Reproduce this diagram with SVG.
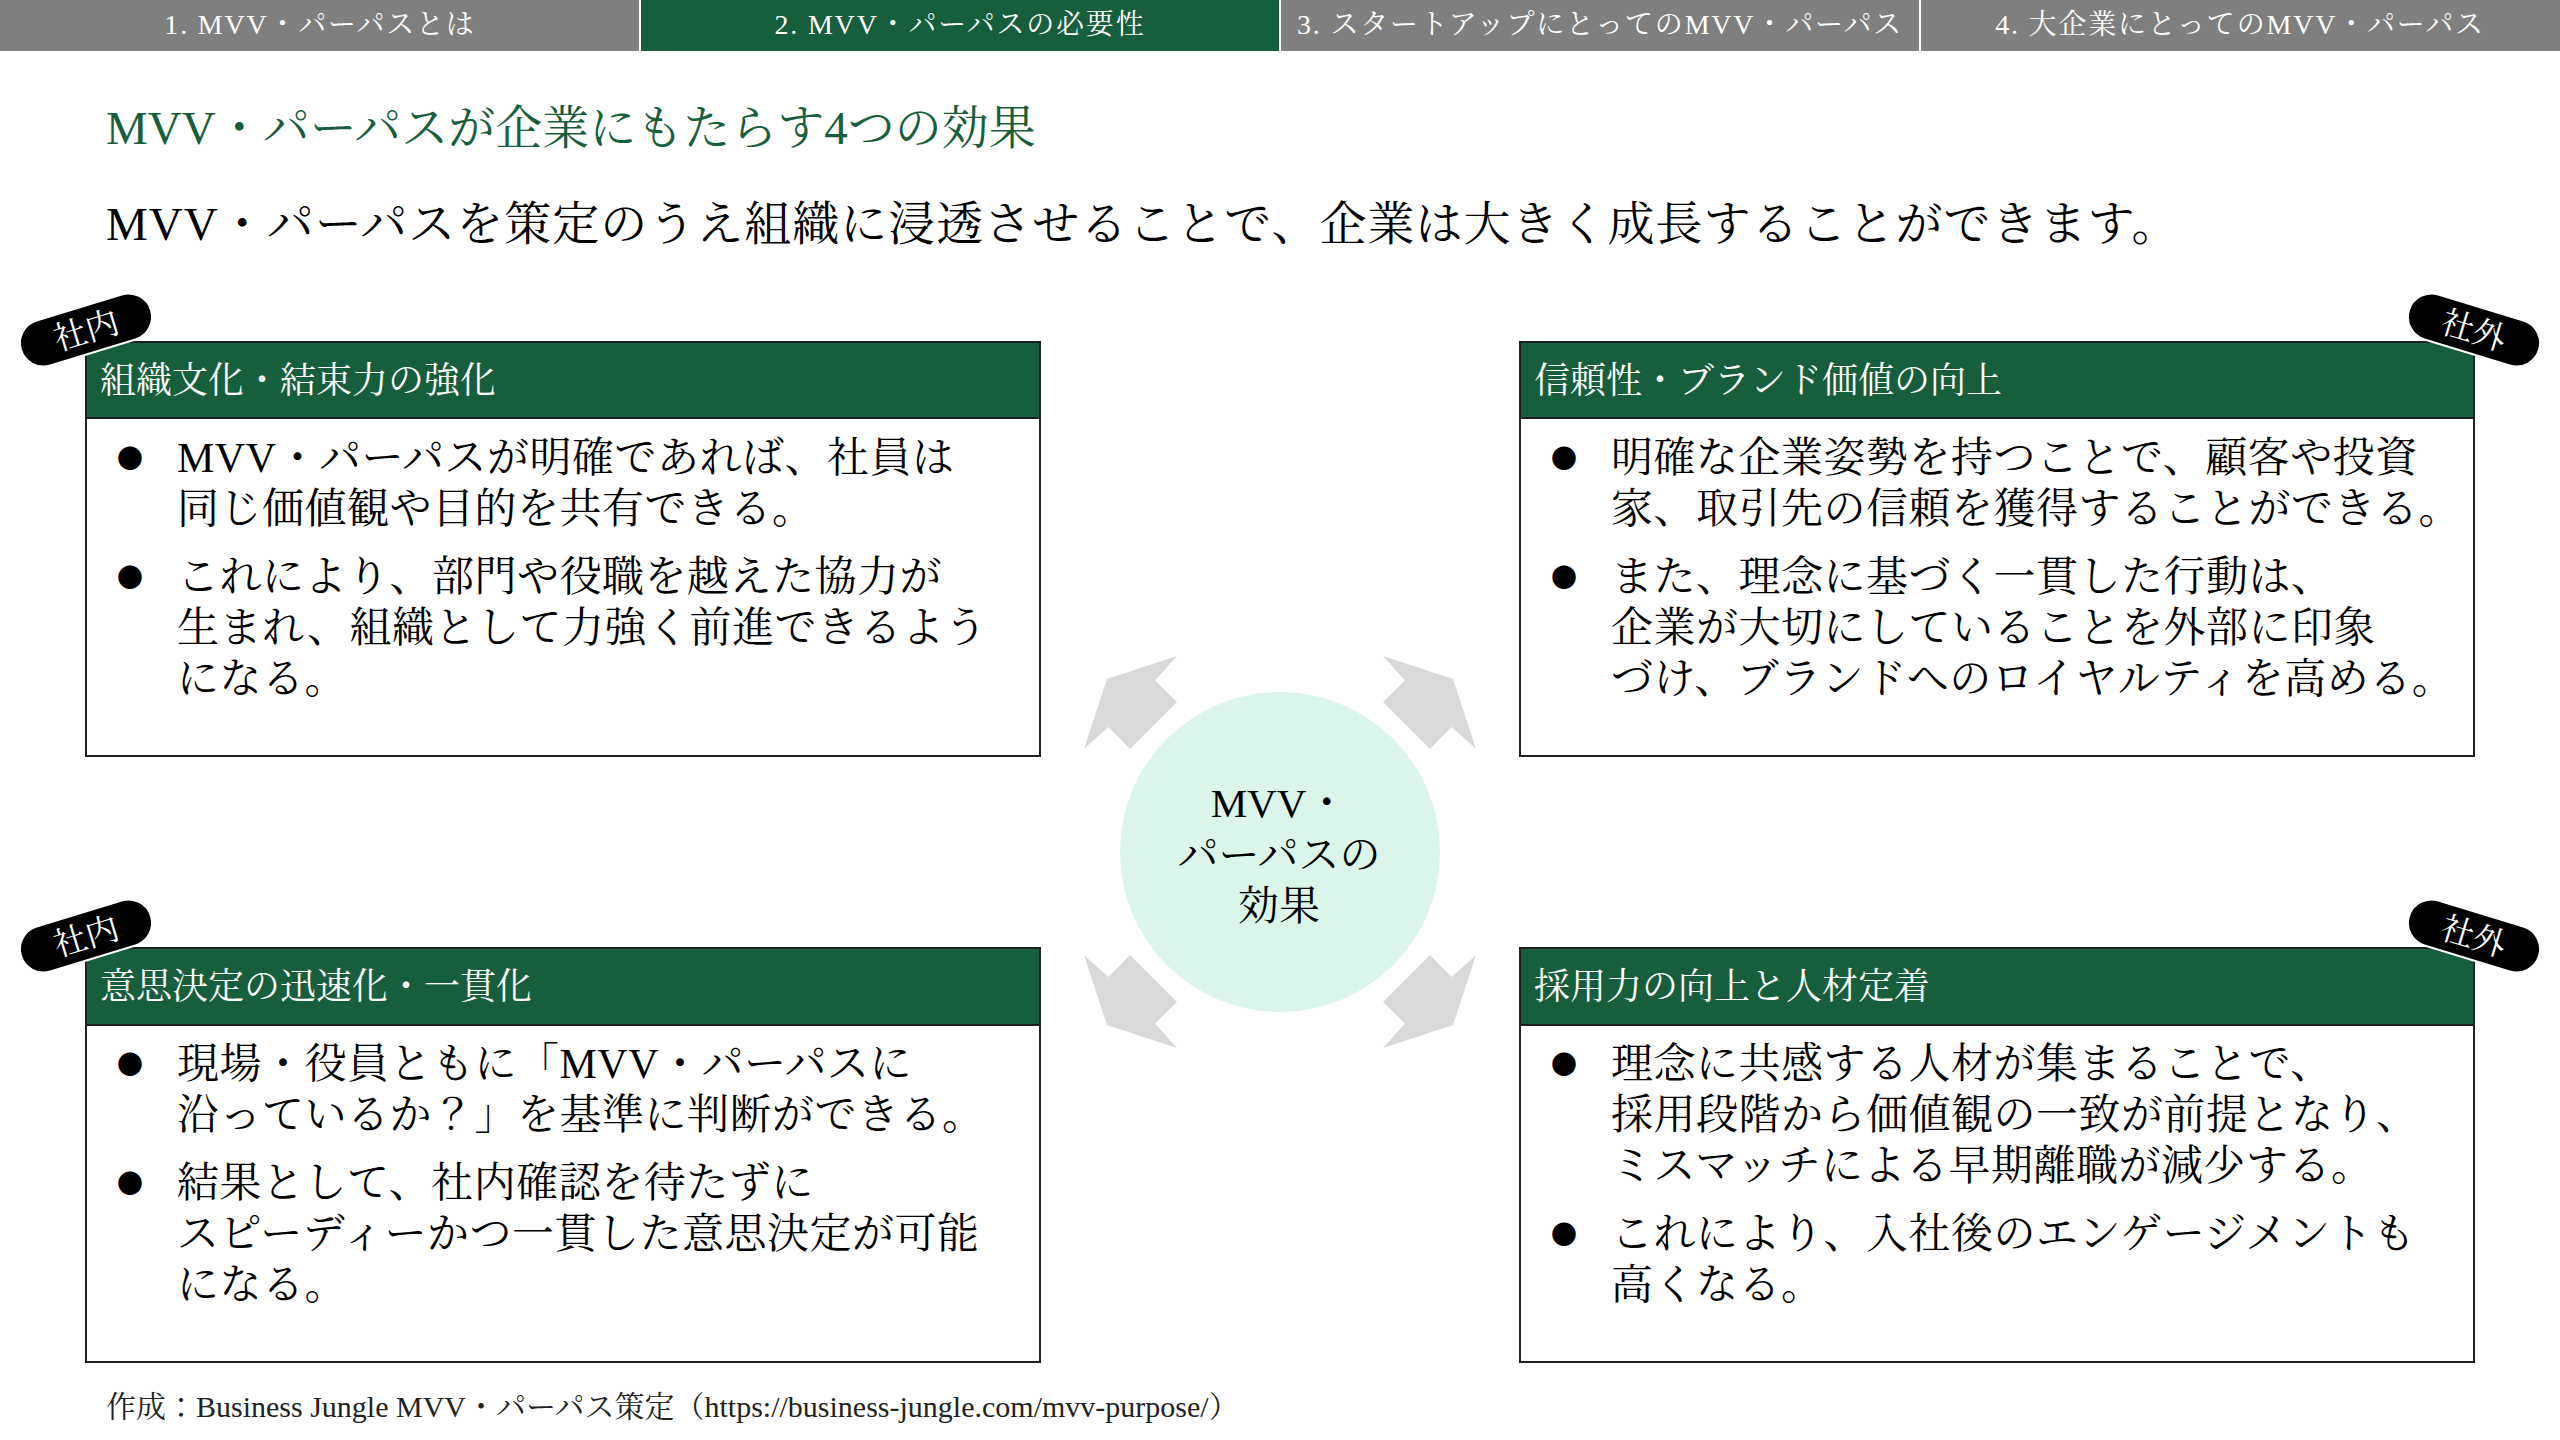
<svg xmlns="http://www.w3.org/2000/svg" width="2560" height="1440" viewBox="0 0 2560 1440">
<style>
  .jp { font-family: "Liberation Serif", "Noto Serif CJK JP", "Noto Sans CJK JP", serif; }
  .tab { fill: #7f7f7f; }
  .tabOn { fill: #175e3c; }
  .tabt { font-size: 28px; fill: #ffffff; text-anchor: middle; letter-spacing: 1.8px; }
  .title { font-size: 47px; fill: #175e3c; }
  .lead { font-size: 47px; fill: #000000; letter-spacing: 1px; }
  .box { fill: #ffffff; stroke: #1f1f1f; stroke-width: 2; }
  .hdr { fill: #175e3c; stroke: #1f1f1f; stroke-width: 2; }
  .hdrt { font-size: 36px; fill: #ffffff; }
  .body { font-size: 42px; fill: #000000; letter-spacing: 0.5px; }
  .bul { font-family: "Noto Sans CJK JP", sans-serif; font-size: 26px; fill: #000000; text-anchor: middle; }
  .pill { fill: #000000; stroke: #ffffff; stroke-width: 2; }
  .pillt { font-size: 33px; fill: #ffffff; text-anchor: middle; }
  .arrow { fill: #d9d9d9; }
  .center { fill: #dcf5ea; }
  .centert { font-size: 41px; fill: #000000; text-anchor: middle; }
  .foot { font-size: 30px; fill: #222222; }
</style>
<defs>
  <path id="arr" d="M -173,-173 L -103,-196 L -125,-171.5 L -103,-150 L -150,-103 L -171.5,-125 L -196,-103 Z"/>
  <rect id="pillshape" x="-68" y="-23.5" width="136" height="47" rx="23.5" ry="23.5"/>
</defs>
<rect x="0" y="0" width="2560" height="1440" fill="#ffffff"/>

<g id="tabs" class="jp">
  <rect class="tab" x="0" y="0" width="639" height="51"/>
  <rect class="tabOn" x="641" y="0" width="638" height="51"/>
  <rect class="tab" x="1281" y="0" width="638" height="51"/>
  <rect class="tab" x="1921" y="0" width="639" height="51"/>
  <text class="tabt" x="320" y="34">1. MVV・パーパスとは</text>
  <text class="tabt" x="960" y="34">2. MVV・パーパスの必要性</text>
  <text class="tabt" x="1600" y="34">3. スタートアップにとってのMVV・パーパス</text>
  <text class="tabt" x="2240" y="34">4. 大企業にとってのMVV・パーパス</text>
</g>

<g id="heading" class="jp">
  <text class="title" x="106" y="144">MVV・パーパスが企業にもたらす4つの効果</text>
  <text class="lead" x="106" y="240">MVV・パーパスを策定のうえ組織に浸透させることで、企業は大きく成長することができます。</text>
</g>

<g id="connectors">
  <use href="#arr" class="arrow" transform="translate(1280,852)"/>
  <use href="#arr" class="arrow" transform="translate(1280,852) scale(-1,1)"/>
  <use href="#arr" class="arrow" transform="translate(1280,852) scale(1,-1)"/>
  <use href="#arr" class="arrow" transform="translate(1280,852) scale(-1,-1)"/>
</g>

<g id="node-center" class="jp">
  <circle class="center" cx="1280" cy="852" r="160"/>
  <text class="centert" x="1279" y="817">MVV・</text>
  <text class="centert" x="1279" y="869">パーパスの</text>
  <text class="centert" x="1279" y="920">効果</text>
</g>

<g id="node-tl" class="jp">
  <rect class="box" x="86" y="342" width="954" height="414"/>
  <rect class="hdr" x="86" y="342" width="954" height="76"/>
  <text class="hdrt" x="100" y="393">組織文化・結束力の強化</text>
  <text class="bul" x="130" y="468">●</text>
  <text class="body"><tspan x="177" y="471.5">MVV・パーパスが明確であれば、社員は</tspan><tspan x="177" y="522.5">同じ価値観や目的を共有できる。</tspan></text>
  <text class="bul" x="130" y="587">●</text>
  <text class="body"><tspan x="177" y="590.5">これにより、部門や役職を越えた協力が</tspan><tspan x="177" y="641.5">生まれ、組織として力強く前進できるよう</tspan><tspan x="177" y="692.5">になる。</tspan></text>
  <use href="#pillshape" class="pill" transform="translate(86,330) rotate(-17)"/>
  <text class="pillt" transform="translate(86,330) rotate(-17)" x="0" y="12">社内</text>
</g>

<g id="node-tr" class="jp">
  <rect class="box" x="1520" y="342" width="954" height="414"/>
  <rect class="hdr" x="1520" y="342" width="954" height="76"/>
  <text class="hdrt" x="1534" y="393">信頼性・ブランド価値の向上</text>
  <text class="bul" x="1564" y="468">●</text>
  <text class="body"><tspan x="1611" y="471.5">明確な企業姿勢を持つことで、顧客や投資</tspan><tspan x="1611" y="522.5">家、取引先の信頼を獲得することができる。</tspan></text>
  <text class="bul" x="1564" y="587">●</text>
  <text class="body"><tspan x="1611" y="590.5">また、理念に基づく一貫した行動は、</tspan><tspan x="1611" y="641.5">企業が大切にしていることを外部に印象</tspan><tspan x="1611" y="692.5">づけ、ブランドへのロイヤルティを高める。</tspan></text>
  <use href="#pillshape" class="pill" transform="translate(2474,330) rotate(17)"/>
  <text class="pillt" transform="translate(2474,330) rotate(17)" x="0" y="12">社外</text>
</g>

<g id="node-bl" class="jp">
  <rect class="box" x="86" y="948" width="954" height="414"/>
  <rect class="hdr" x="86" y="948" width="954" height="77"/>
  <text class="hdrt" x="100" y="999">意思決定の迅速化・一貫化</text>
  <text class="bul" x="130" y="1074">●</text>
  <text class="body"><tspan x="177" y="1077.5">現場・役員ともに「MVV・パーパスに</tspan><tspan x="177" y="1128.5">沿っているか？」を基準に判断ができる。</tspan></text>
  <text class="bul" x="130" y="1193">●</text>
  <text class="body"><tspan x="177" y="1196.5">結果として、社内確認を待たずに</tspan><tspan x="177" y="1247.5">スピーディーかつ一貫した意思決定が可能</tspan><tspan x="177" y="1298.5">になる。</tspan></text>
  <use href="#pillshape" class="pill" transform="translate(86,936) rotate(-17)"/>
  <text class="pillt" transform="translate(86,936) rotate(-17)" x="0" y="12">社内</text>
</g>

<g id="node-br" class="jp">
  <rect class="box" x="1520" y="948" width="954" height="414"/>
  <rect class="hdr" x="1520" y="948" width="954" height="77"/>
  <text class="hdrt" x="1534" y="999">採用力の向上と人材定着</text>
  <text class="bul" x="1564" y="1074">●</text>
  <text class="body"><tspan x="1611" y="1077.5">理念に共感する人材が集まることで、</tspan><tspan x="1611" y="1128.5">採用段階から価値観の一致が前提となり、</tspan><tspan x="1611" y="1179.5">ミスマッチによる早期離職が減少する。</tspan></text>
  <text class="bul" x="1564" y="1244">●</text>
  <text class="body"><tspan x="1611" y="1247.5">これにより、入社後のエンゲージメントも</tspan><tspan x="1611" y="1298.5">高くなる。</tspan></text>
  <use href="#pillshape" class="pill" transform="translate(2474,936) rotate(17)"/>
  <text class="pillt" transform="translate(2474,936) rotate(17)" x="0" y="12">社外</text>
</g>

<g id="footer" class="jp">
  <text class="foot" x="106" y="1417">作成：Business Jungle MVV・パーパス策定（https://business-jungle.com/mvv-purpose/）</text>
</g>
</svg>
